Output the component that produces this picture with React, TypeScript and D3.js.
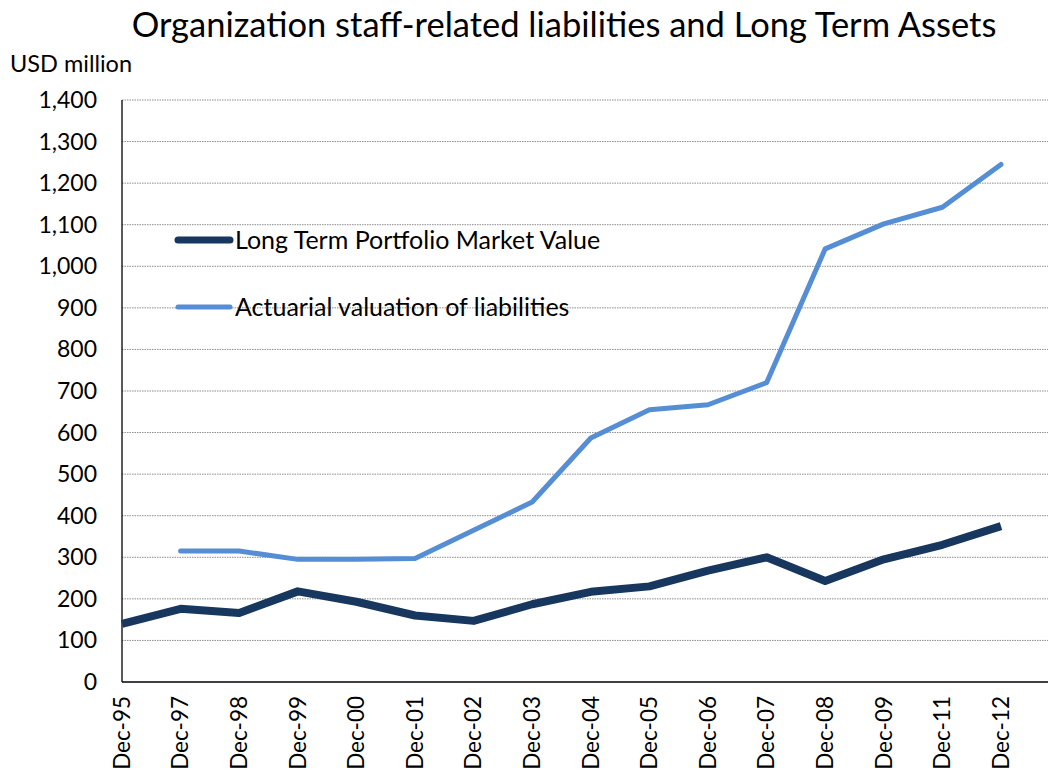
import React from "react";
import * as d3 from "d3";

const categories = ["Dec-95","Dec-97","Dec-98","Dec-99","Dec-00","Dec-01","Dec-02","Dec-03","Dec-04","Dec-05","Dec-06","Dec-07","Dec-08","Dec-09","Dec-11","Dec-12"];
const portfolio: (number | null)[] = [140,176,166,218,193,160,147,187,217,230,268,300,243,295,330,375];
const liabilities: (number | null)[] = [null,315,315,295,295,297,365,433,587,655,667,720,1042,1102,1142,1245];
const yTicks = [0,100,200,300,400,500,600,700,800,900,1000,1100,1200,1300,1400];

const seriesNames = ["Long Term Portfolio Market Value", "Actuarial valuation of liabilities"];
const colors = ["#17375E", "#558ED5"];

export default function App() {
  const W = 1050, H = 774;
  const left = 122, right = 1048, top = 100, bottom = 682;
  const x = d3.scaleLinear().domain([0, categories.length - 1]).range([left, 1001]);
  const y = d3.scaleLinear().domain([0, 1400]).range([bottom, top]);
  const fmt = d3.format(",");
  const line = d3.line<number | null>()
    .defined(d => d !== null)
    .x((_, i) => x(i))
    .y(d => y(d as number));
  const font = "Lato, 'Open Sans', sans-serif";
  return (
    <svg width={W} height={H} style={{ position: "absolute", left: 0, top: 0, background: "#fff" }} fontFamily={font}>
      <text x={564} y={37} textAnchor="middle" fontSize={34.5} fill="#000">Organization staff-related liabilities and Long Term Assets</text>
      <text x={10} y={72} fontSize={23.5} fill="#000">USD million</text>
      {yTicks.map(t => (
        <g key={t}>
          {t > 0 && <line x1={left} x2={right} y1={y(t)} y2={y(t)} stroke="#8c8c8c" strokeWidth={1} strokeDasharray="1.5,1" />}
          <text x={97} y={y(t)} dy="0.35em" textAnchor="end" fontSize={23} fill="#000">{fmt(t)}</text>
        </g>
      ))}
      <line x1={left} x2={left} y1={top} y2={bottom} stroke="#000" strokeWidth={1.3} />
      <line x1={left} x2={right} y1={bottom} y2={bottom} stroke="#000" strokeWidth={1.3} />
      {categories.map((c, i) => (
        <text key={c} transform={`translate(${x(i)},${bottom + 14}) rotate(-90)`} textAnchor="end" dy="0.35em" fontSize={22.5} fill="#000">{c}</text>
      ))}
      <path d={line(liabilities) || ""} fill="none" stroke={colors[1]} strokeWidth={5} strokeLinejoin="round" strokeLinecap="round" />
      <path d={line(portfolio) || ""} fill="none" stroke={colors[0]} strokeWidth={8} strokeLinejoin="round" />
      <line x1={178} x2={230} y1={240} y2={240} stroke={colors[0]} strokeWidth={7} strokeLinecap="round" />
      <text x={235} y={240} dy="0.35em" fontSize={25} fill="#000">{seriesNames[0]}</text>
      <line x1={178} x2={230} y1={307} y2={307} stroke={colors[1]} strokeWidth={5} strokeLinecap="round" />
      <text x={235} y={307} dy="0.35em" fontSize={25} fill="#000">{seriesNames[1]}</text>
    </svg>
  );
}
